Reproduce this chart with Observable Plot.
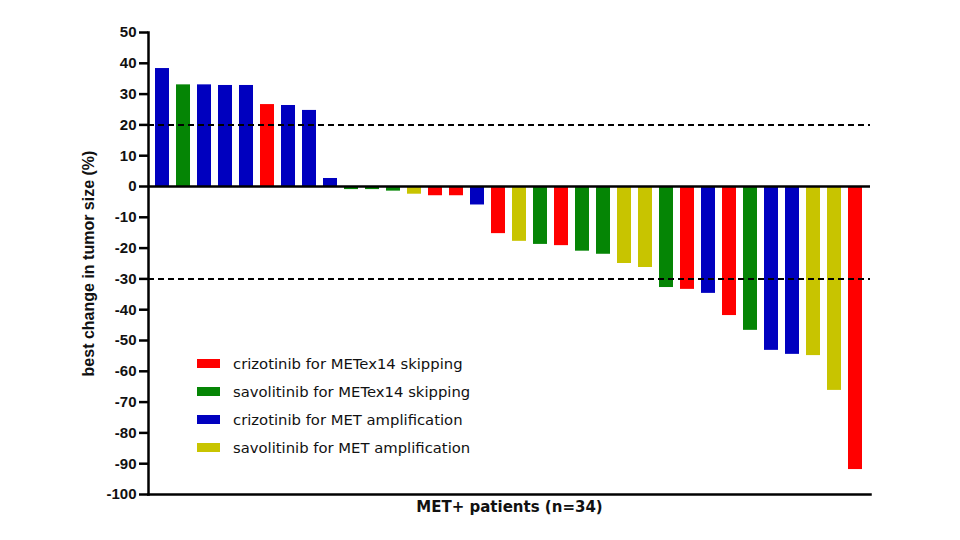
<!DOCTYPE html>
<html>
<head>
<meta charset="utf-8">
<script src="https://cdn.jsdelivr.net/npm/d3@7"></script>
<script src="https://cdn.jsdelivr.net/npm/@observablehq/plot@0.6"></script>
<style>
  html, body { margin: 0; padding: 0; background: #fff; }
  #wrap { position: relative; width: 960px; height: 540px; font-family: "DejaVu Sans", sans-serif; }
  #legend { position: absolute; left: 197px; top: 349px; }
  .row { display: flex; align-items: center; height: 28px; font-size: 14.8px; color: #111; }
  .sw { width: 23px; height: 9px; margin-right: 13px; }
</style>
</head>
<body>
<div id="wrap"></div>
<script>
const groups = [
  "crizotinib for METex14 skipping",
  "savolitinib for METex14 skipping",
  "crizotinib for MET amplification",
  "savolitinib for MET amplification"
];
const colors = ["#ff0000", "#058505", "#0000bf", "#c8c400"];
const patients = d3.range(1, 35);
const changes = [38.3, 33, 33, 32.8, 32.8, 26.6, 26.3, 24.7, 2.6, -1, -1, -1.5, -2.5, -3, -3, -6,
  -15.3, -17.8, -18.8, -19.2, -21, -22, -25, -26.3, -32.8, -33.4, -34.7, -41.9, -46.7, -53.2, -54.5, -54.9, -66.2, -91.9];
const groupIdx = [2, 1, 2, 2, 2, 0, 2, 2, 2, 1, 1, 1, 3, 0, 0, 2,
  0, 3, 1, 0, 1, 1, 3, 3, 1, 0, 2, 0, 1, 2, 2, 3, 3, 0];
const refLines = [20, -30];
const yTicks = d3.range(-100, 51, 10);

const data = patients.map((p, i) => ({patient: p, change: changes[i], group: groups[groupIdx[i]]}));

const chart = Plot.plot({
  width: 960,
  height: 540,
  marginLeft: 148,
  marginRight: 90,
  marginTop: 32,
  marginBottom: 46,
  style: {fontFamily: "'DejaVu Sans', sans-serif", background: "#fff"},
  x: {type: "band", domain: patients, paddingInner: 0.33, paddingOuter: 0.3, axis: null},
  y: {domain: [-100, 50], axis: null},
  color: {domain: groups, range: colors},
  marks: [
    Plot.barY(data, {x: "patient", y: "change", fill: "group"}),
    Plot.ruleY(refLines, {stroke: "#000", strokeWidth: 2, strokeDasharray: "6,4"}),
    Plot.ruleY([0], {stroke: "#000", strokeWidth: 2.5}),
    Plot.frame({anchor: "left", stroke: "#000", strokeWidth: 2.5}),
    Plot.frame({anchor: "bottom", stroke: "#000", strokeWidth: 2.5}),
    Plot.axisY({ticks: yTicks, tickSize: 9, tickPadding: 3, strokeWidth: 2.5, label: null,
      tickFormat: d => String(d),
      fontFamily: "'Liberation Sans', Arial, sans-serif", fontSize: 15, fontWeight: "bold", fill: "#111"}),
    Plot.text(["best change in tumor size (%)"], {frameAnchor: "left", dx: -60, rotate: -90, textAnchor: "middle",
      fontFamily: "'Liberation Sans', Arial, sans-serif", fontSize: 16, fontWeight: "bold", fill: "#111"}),
    Plot.text(["MET+ patients (n=34)"], {frameAnchor: "bottom", dy: 17, textAnchor: "middle",
      fontFamily: "'DejaVu Sans', sans-serif", fontSize: 15, fontWeight: "bold", fill: "#111"})
  ]
});
const wrap = document.getElementById("wrap");
wrap.appendChild(chart);

const legend = document.createElement("div");
legend.id = "legend";
groups.forEach((g, i) => {
  const row = document.createElement("div");
  row.className = "row";
  const sw = document.createElement("div");
  sw.className = "sw";
  sw.style.background = colors[i];
  const t = document.createElement("span");
  t.textContent = g;
  row.appendChild(sw);
  row.appendChild(t);
  legend.appendChild(row);
});
wrap.appendChild(legend);
</script>
</body>
</html>
